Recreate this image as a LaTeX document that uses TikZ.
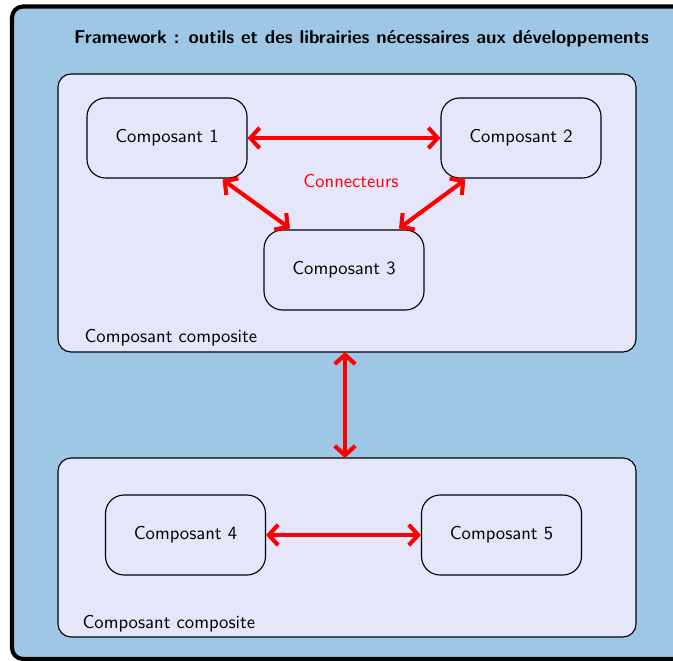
\documentclass[tikz,border=0pt]{standalone}
\usetikzlibrary{arrows.meta,calc}
\definecolor{outerblue}{RGB}{157,199,228}
\definecolor{lav}{RGB}{230,230,250}
\newcommand\uu{0.537pt}
\begin{document}
\begin{tikzpicture}[x=\uu,y=-\uu,font=\sffamily,
  comp/.style={draw=black,fill=lav,rounded corners=10pt,line width=0.6pt,minimum width={160*\uu},minimum height={80*\uu},inner sep=0pt},
  group/.style={draw=black,fill=lav,rounded corners=7pt,line width=0.6pt},
  conn/.style={draw=red,line width=2.2pt,{Straight Barb[length=5pt,width=11pt]}-{Straight Barb[length=5pt,width=11pt]}}]
\useasboundingbox (0,0) rectangle (673,661);
\draw[line width=2.2pt,fill=outerblue,rounded corners=6pt] (12,6.5) rectangle (710,659);
\node[font=\sffamily\bfseries] (title) at (361.5,39) {Framework : outils et des librairies nécessaires aux développements};
\draw[group] (58,74) rectangle (636,352);
\draw[group] (58,458) rectangle (636,637);
\coordinate (g1s) at (345,352);
\coordinate (g2n) at (345,458);
\node[anchor=west] (lab1) at (78,338) {Composant composite};
\node[anchor=west] (lab2) at (76,624) {Composant composite};
\node[comp] (c1) at (167,138) {Composant 1};
\node[comp] (c2) at (521,138) {Composant 2};
\node[comp] (c3) at (344,270) {Composant 3};
\node[comp] (c4) at (185.5,535) {Composant 4};
\node[comp] (c5) at (501.5,535) {Composant 5};
\node[text=red] (lbl) at (351,181) {Connecteurs};
\draw[conn] (c1.east) -- (c2.west);
\draw[conn] ($(c1.south east)+(-25,1)$) -- ($(c3.north)+(-54,-1)$);
\draw[conn] ($(c2.south west)+(25,1)$) -- ($(c3.north)+(55,-1)$);
\draw[conn] (g1s) -- (g2n);
\draw[conn] (c4.east) -- (c5.west);
\end{tikzpicture}
\end{document}
